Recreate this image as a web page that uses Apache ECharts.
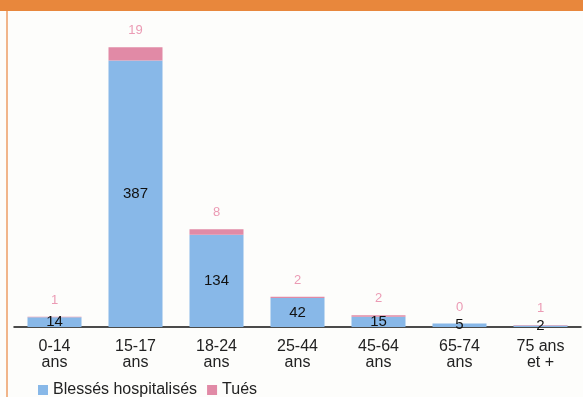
<!DOCTYPE html>
<html>
<head>
<meta charset="utf-8">
<script src="https://cdn.jsdelivr.net/npm/echarts@6/dist/echarts.min.js"></script>
<style>
	html, body { margin: 0; padding: 0; background: #fdfdfb; }
</style>
</head>
<body>
<div id="myChart" style="width: 583px; height: 397px;"></div>
<script>
	// tranches d'âge
	var categories = ['0-14\nans', '15-17\nans', '18-24\nans', '25-44\nans', '45-64\nans', '65-74\nans', '75 ans\net +']
	// blessés hospitalisés
	var blesses = [14, 387, 134, 42, 15, 5, 2]
	// tués
	var tues = [1, 19, 8, 2, 2, 0, 1]

	var myChart = echarts.init(document.getElementById('myChart'))
	myChart.setOption({
		backgroundColor: '#fdfdfb',
		textStyle: {
			fontFamily: 'Liberation Sans'
		},
		graphic: [{
			type: 'rect',
			shape: { x: 0, y: 0, width: 583, height: 11 },
			style: { fill: '#e8873c' }
		}, {
			type: 'rect',
			shape: { x: 6, y: 11, width: 2, height: 386 },
			style: { fill: '#f1b58a' }
		}],
		legend: {
			left: 33,
			top: 377,
			itemWidth: 10,
			itemHeight: 10,
			itemGap: 10,
			icon: 'rect',
			textStyle: {
				fontSize: 16,
				color: '#222'
			},
			data: ['Blessés hospitalisés', 'Tués']
		},
		grid: {
			left: 14,
			right: 2,
			top: 17,
			bottom: 70
		},
		xAxis: {
			type: 'category',
			data: categories,
			axisLine: {
				lineStyle: { color: '#111', width: 1.5 }
			},
			axisTick: { show: false },
			axisLabel: {
				fontSize: 16,
				lineHeight: 16,
				color: '#222',
				margin: 12
			}
		},
		yAxis: {
			type: 'value',
			min: 0,
			max: 450,
			show: false,
			splitLine: { show: false }
		},
		series: [{
			name: 'Blessés hospitalisés',
			type: 'bar',
			stack: 'total',
			barWidth: 54,
			data: blesses,
			itemStyle: { color: '#88b8e8' },
			label: {
				show: true,
				position: 'inside',
				fontSize: 15,
				color: '#111'
			}
		}, {
			name: 'Tués',
			type: 'bar',
			stack: 'total',
			barWidth: 54,
			data: tues,
			itemStyle: { color: '#e18aa6' },
			label: {
				show: true,
				position: 'top',
				distance: 10,
				fontSize: 13,
				color: '#eb9bb4'
			}
		}]
	})
</script>
</body>
</html>
